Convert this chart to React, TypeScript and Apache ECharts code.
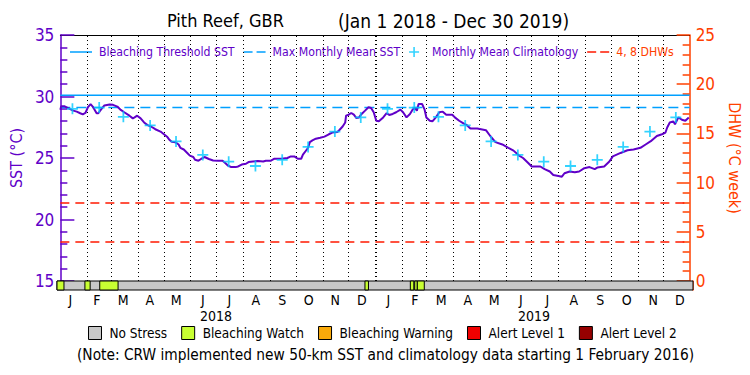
import React, { useEffect, useRef } from "react";
import * as echarts from "echarts";

const FONT = '"Liberation Sans Narrow", "DejaVu Sans Condensed", "Liberation Sans", sans-serif';
const PURPLE = "#6000c8";
const RED_AXIS = "#ff4000";
const RED_LINE = "#ff1a00";
const BLUE_LINE = "#00a0ff";
const CYAN = "#00c8ff";

// Day offsets from Jan 1 2018, SST values (°C)
const sstDays = [0, 1, 5, 9, 15, 19, 23, 26, 29, 32, 35, 38, 42, 44, 47, 51, 57, 61, 66, 70, 74, 80, 84, 86, 89, 93, 97, 101, 105, 110, 116, 120, 124, 126, 129, 133, 137, 139, 143, 147, 150, 154, 156, 160, 163, 167, 172, 177, 183, 188, 191, 194, 198, 203, 206, 210, 215, 218, 223, 229, 235, 238, 244, 248, 256, 263, 267, 271, 275, 279, 281, 284, 287, 289, 292, 296, 301, 306, 311, 315, 321, 323, 327, 330, 331, 334, 337, 340, 343, 346, 349, 353, 357, 360, 363, 366, 369, 374, 378, 381, 385, 389, 394, 397, 401, 405, 408, 411, 413, 415, 419, 422, 424, 428, 431, 435, 439, 443, 447, 454, 457, 462, 467, 471, 475, 483, 493, 498, 504, 512, 519, 525, 531, 536, 542, 546, 556, 561, 567, 571, 577, 581, 584, 590, 596, 601, 607, 613, 619, 622, 630, 636, 640, 649, 657, 664, 672, 678, 684, 691, 697, 701, 703, 706, 710, 712, 716, 720, 724, 728];
const sstValues = [28.93, 29.2, 29.2, 29.05, 28.85, 28.77, 28.64, 28.55, 28.66, 29.13, 29.38, 29.13, 28.64, 28.64, 28.93, 29.27, 29.35, 29.32, 29.18, 28.91, 28.72, 28.44, 28.22, 28.3, 28.44, 28.22, 27.89, 27.67, 27.56, 27.34, 27.15, 26.93, 26.7, 26.51, 26.32, 26.29, 26.1, 25.83, 25.69, 25.41, 25.19, 25.08, 24.86, 24.78, 24.92, 25.08, 24.92, 24.8, 24.78, 24.78, 24.59, 24.39, 24.26, 24.26, 24.31, 24.47, 24.53, 24.67, 24.72, 24.75, 24.72, 24.78, 24.78, 24.94, 24.94, 25.0, 25.13, 25.13, 24.94, 24.94, 25.27, 25.55, 25.83, 26.29, 26.43, 26.57, 26.65, 26.74, 26.93, 27.07, 27.12, 27.26, 27.56, 27.89, 28.44, 28.52, 28.66, 28.52, 28.25, 28.3, 28.58, 28.85, 29.13, 29.07, 28.72, 28.03, 27.98, 28.3, 28.64, 28.5, 28.58, 28.72, 28.93, 28.72, 28.3, 28.58, 28.93, 29.05, 28.85, 29.4, 29.4, 28.93, 28.3, 28.03, 27.98, 28.3, 28.72, 28.77, 28.52, 28.52, 28.3, 28.03, 27.81, 27.67, 27.4, 27.4, 27.26, 26.79, 26.29, 26.1, 25.83, 25.6, 25.22, 25.0, 24.59, 24.31, 24.31, 24.09, 23.9, 23.62, 23.54, 23.48, 23.76, 23.9, 23.84, 23.9, 24.17, 24.26, 24.09, 24.22, 24.31, 24.72, 25.13, 25.41, 25.63, 25.69, 25.83, 26.1, 26.37, 26.79, 26.93, 27.07, 27.48, 27.89, 27.98, 27.75, 28.3, 28.11, 28.03, 28.3];

// Monthly mean climatology, Jan..Dec (°C)
const climatology = [29.0, 29.1, 28.35, 27.65, 26.35, 25.25, 24.7, 24.35, 24.85, 25.9, 27.15, 28.3];
const mmm = 29.1;
const bleachingThreshold = 30.1;
const dhwLevels = [4, 8];

// Alert status ranges (day offsets)
const noStressRanges = [[0, 729]];
const watchRanges = [[0, 8], [32, 38], [49, 70], [353, 357], [405, 409], [410, 413], [413, 421]];
const warningRanges: number[][] = [];
const alert1Ranges: number[][] = [];
const alert2Ranges: number[][] = [];

const monthLetters = ["J", "F", "M", "A", "M", "J", "J", "A", "S", "O", "N", "D"];
const years = [2018, 2019];
const totalDays = 729;

const dayOf = (y: number, m: number, d: number) =>
  (Date.UTC(y, m, d) - Date.UTC(2018, 0, 1)) / 86400000;

export default function App() {
  const ref = useRef<HTMLDivElement>(null);
  useEffect(() => {
    if (!ref.current) return;
    const chart = echarts.init(ref.current, undefined, { renderer: "svg" });

    const sstData = sstDays.map((d, i) => [d, sstValues[i]]);
    const climData: number[][] = [];
    years.forEach((y) => climatology.forEach((v, m) => climData.push([dayOf(y, m, 15), v])));
    const monthLines: any[] = [];
    years.forEach((y) =>
      monthLetters.forEach((_, m) => {
        const d = dayOf(y, m, 1);
        if (d <= 0) return;
        monthLines.push(
          y === 2019 && m === 0
            ? { xAxis: d, lineStyle: { width: 2 } }
            : { xAxis: d }
        );
      })
    );
    const monthCats: string[] = [];
    years.forEach(() => monthLetters.forEach((l) => monthCats.push(l)));

    const statusSeries = (name: string, color: string, ranges: number[][]) => ({
      name,
      type: "custom",
      xAxisIndex: 4,
      yAxisIndex: 2,
      itemStyle: { color },
      silent: true,
      data: ranges,
      encode: { x: [0, 1] },
      renderItem: (params: any, api: any) => {
        const s = api.coord([api.value(0), 0]);
        const e = api.coord([api.value(1), 1]);
        return {
          type: "rect",
          shape: { x: s[0], y: e[1], width: e[0] - s[0], height: s[1] - e[1] },
          style: { fill: color, stroke: "#000", lineWidth: 1 },
        };
      },
    });

    const txt = { fontFamily: FONT };
    const lineIcon = "path://M0,0H22V1.5H0Z";
    const dashIcon = "path://M0,0H9V1.5H0ZM13,0H22V1.5H13Z";
    const plusIcon = "path://M4.2,0H5.8V10H4.2ZM0,4.2H10V5.8H0Z";
    const titleStyle = { ...txt, fontSize: 18, fontWeight: "normal", color: "#000" };

    chart.setOption({
      animation: false,
      backgroundColor: "#fff",
      textStyle: txt,
      title: [
        { text: "Pith Reef, GBR", left: 167, top: 11, padding: 0, textStyle: titleStyle },
        { text: "(Jan 1 2018 - Dec 30 2019)", left: 338, top: 11, padding: 0, textStyle: { ...titleStyle, fontSize: 19 } },
        { text: "(Note: CRW implemented new 50-km SST and climatology data starting 1 February 2016)", left: 77, top: 347, padding: 0, textStyle: { ...titleStyle, fontSize: 15.3 } },
      ],
      legend: [
        {
          left: 70,
          top: 46,
          padding: 0,
          itemWidth: 22,
          itemHeight: 10,
          itemGap: 9,
          selectedMode: false,
          textStyle: { ...txt, fontSize: 12.2, color: PURPLE, padding: [0, 0, 0, 2] },
          data: [
            { name: "Bleaching Threshold SST", icon: lineIcon, itemStyle: { color: BLUE_LINE } },
            { name: "Max Monthly Mean SST", icon: dashIcon, itemStyle: { color: BLUE_LINE } },
            { name: "Monthly Mean Climatology", icon: plusIcon, itemStyle: { color: CYAN } },
            { name: "4, 8 DHWs", icon: dashIcon, itemStyle: { color: RED_LINE }, textStyle: { color: RED_AXIS } },
          ],
        },
        {
          left: 88,
          top: 326,
          padding: 0,
          itemWidth: 13,
          itemHeight: 13,
          itemGap: 14,
          selectedMode: false,
          textStyle: { ...txt, fontSize: 13.5, color: "#000", padding: [0, 0, 0, 3] },
          data: [
            { name: "No Stress", icon: "rect", itemStyle: { color: "#c8c8c8", borderColor: "#000", borderWidth: 1 } },
            { name: "Bleaching Watch", icon: "rect", itemStyle: { color: "#c8ff32", borderColor: "#000", borderWidth: 1 } },
            { name: "Bleaching Warning", icon: "rect", itemStyle: { color: "#faaa0a", borderColor: "#000", borderWidth: 1 } },
            { name: "Alert Level 1", icon: "rect", itemStyle: { color: "#f00000", borderColor: "#000", borderWidth: 1 } },
            { name: "Alert Level 2", icon: "rect", itemStyle: { color: "#960000", borderColor: "#000", borderWidth: 1 } },
          ],
        },
      ],
      grid: [
        { left: 57, right: 57, top: 35, height: 246 },
        { left: 57, right: 57, top: 281, height: 9 },
      ],
      xAxis: [
        {
          type: "value", gridIndex: 0, min: 0, max: totalDays, position: "top",
          axisLine: { show: true, onZero: false, lineStyle: { color: "#000", width: 1 } },
          axisTick: { show: false }, axisLabel: { show: false }, splitLine: { show: false },
        },
        {
          type: "value", gridIndex: 0, min: 0, max: totalDays, position: "bottom", show: false,
        },
        {
          type: "category", gridIndex: 1, data: monthCats, position: "bottom", boundaryGap: true,
          axisLine: { show: false }, axisTick: { show: false },
          axisLabel: { margin: 3, fontSize: 14, lineHeight: 13, color: "#000", fontFamily: FONT, interval: 0 },
        },
        {
          type: "category", gridIndex: 1, data: years.map(String), position: "bottom", offset: 16, boundaryGap: true,
          axisLine: { show: false }, axisTick: { show: false },
          axisLabel: { margin: 3, fontSize: 14, lineHeight: 13, color: "#000", fontFamily: FONT, interval: 0 },
        },
        {
          type: "value", gridIndex: 1, min: 0, max: totalDays, show: false,
        },
      ],
      yAxis: [
        {
          type: "value", gridIndex: 0, min: 15, max: 35, interval: 5, position: "left",
          name: "SST (°C)", nameLocation: "middle", nameGap: 30, nameRotate: 90,
          nameTextStyle: { color: PURPLE, fontSize: 16, fontFamily: FONT },
          axisLine: { show: true, onZero: false, lineStyle: { color: PURPLE, width: 1.5 } },
          axisTick: { show: true, inside: true, length: 14, lineStyle: { color: PURPLE, width: 1.5 } },
          minorTick: { show: true, splitNumber: 5, length: 7, lineStyle: { color: PURPLE, width: 1.5 } },
          axisLabel: { color: PURPLE, fontSize: 17, margin: 6, fontFamily: FONT },
          splitLine: { show: false },
        },
        {
          type: "value", gridIndex: 0, min: 0, max: 25, interval: 5, position: "right",
          name: "DHW (°C week)", nameLocation: "middle", nameGap: 32, nameRotate: -90,
          nameTextStyle: { color: RED_AXIS, fontSize: 16, fontFamily: FONT },
          axisLine: { show: true, onZero: false, lineStyle: { color: RED_AXIS, width: 1.5 } },
          axisTick: { show: true, inside: true, length: 13, lineStyle: { color: RED_AXIS, width: 1.5 } },
          minorTick: { show: true, splitNumber: 5, length: 7, lineStyle: { color: RED_AXIS, width: 1.5 } },
          axisLabel: { color: RED_AXIS, fontSize: 17, margin: 6, fontFamily: FONT },
          splitLine: { show: false },
        },
        { type: "value", gridIndex: 1, min: 0, max: 1, show: false },
        {
          type: "value", gridIndex: 1, min: 0, max: 1, position: "right",
          axisLine: { show: true, onZero: false, lineStyle: { color: RED_AXIS, width: 1.5 } },
          axisTick: { show: false }, axisLabel: { show: false }, splitLine: { show: false },
        },
      ],
      series: [
        {
          name: "SST", type: "line", xAxisIndex: 1, yAxisIndex: 0, data: sstData,
          showSymbol: false, symbol: "none", z: 5,
          lineStyle: { color: PURPLE, width: 2 }, itemStyle: { color: PURPLE },
          markLine: {
            silent: true, symbol: "none", label: { show: false },
            lineStyle: { color: "#000", type: [1, 3], width: 1 },
            data: monthLines,
          },
        },
        {
          name: "Bleaching Threshold SST", type: "line", xAxisIndex: 1, yAxisIndex: 0,
          data: [[0, bleachingThreshold], [totalDays, bleachingThreshold]],
          symbol: "none", lineStyle: { color: BLUE_LINE, width: 1.5 }, itemStyle: { color: BLUE_LINE },
        },
        {
          name: "Max Monthly Mean SST", type: "line", xAxisIndex: 1, yAxisIndex: 0,
          data: [[0, mmm], [totalDays, mmm]],
          symbol: "none", lineStyle: { color: BLUE_LINE, width: 1.5, type: [10, 6] }, itemStyle: { color: BLUE_LINE },
        },
        {
          name: "Monthly Mean Climatology", type: "scatter", xAxisIndex: 1, yAxisIndex: 0,
          data: climData, symbol: plusIcon, symbolSize: 11, z: 6,
          itemStyle: { color: CYAN },
        },
        {
          name: "4, 8 DHWs", type: "line", xAxisIndex: 1, yAxisIndex: 1, data: [],
          itemStyle: { color: RED_LINE },
          markLine: {
            silent: true, symbol: "none", label: { show: false },
            lineStyle: { color: RED_LINE, type: [9, 6], width: 1.5 },
            data: dhwLevels.map((v) => ({ yAxis: v })),
          },
        },
        statusSeries("No Stress", "#c8c8c8", noStressRanges),
        statusSeries("Bleaching Watch", "#c8ff32", watchRanges),
        statusSeries("Bleaching Warning", "#faaa0a", warningRanges),
        statusSeries("Alert Level 1", "#f00000", alert1Ranges),
        statusSeries("Alert Level 2", "#960000", alert2Ranges),
      ],
    });
    return () => chart.dispose();
  }, []);
  return (
    <div
      ref={ref}
      style={{ position: "fixed", left: 0, top: 0, width: 750, height: 375, background: "#fff" }}
    />
  );
}
